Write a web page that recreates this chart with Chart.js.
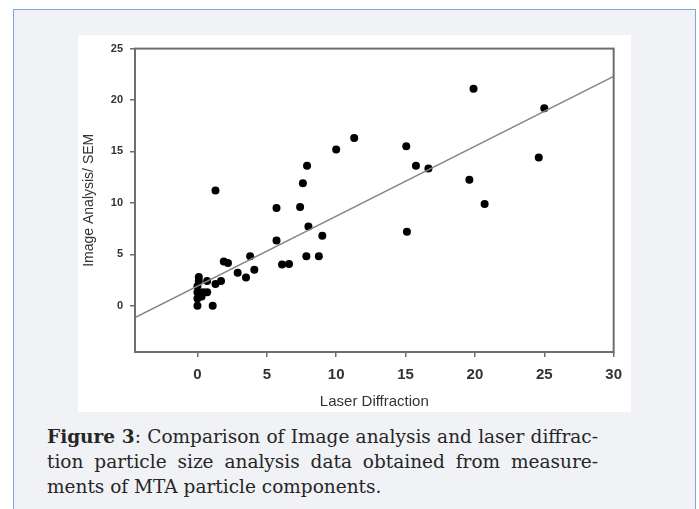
<!DOCTYPE html>
<html>
<head>
<meta charset="utf-8">
<script src="https://cdn.jsdelivr.net/npm/chart.js@4.4.1/dist/chart.umd.min.js"></script>
<style>
  body { margin: 0; background: #fff; width: 699px; height: 509px; overflow: hidden; }
  .frame {
    position: absolute; left: 13px; top: 9px; width: 681px; height: 520px;
    border: 1px solid #7fa6dc; background: #f0f2f5;
  }
  .panel { position: absolute; left: 64px; top: 25px; width: 553px; height: 377px; background: #fff; }
  .caption { position: absolute; left: 33px; top: 414px; width: 551px; font-family: "DejaVu Serif", serif; font-size: 18.5px; line-height: 25px; color: #262626; }
  .caption div { white-space: nowrap; }
  .caption .just { text-align: justify; text-align-last: justify; }
</style>
</head>
<body>
<div class="frame">
  <div class="panel"><canvas id="scatterChart" width="553" height="377"></canvas></div>
  <div class="caption">
    <div class="just"><b>Figure 3</b>: Comparison of Image analysis and laser diffrac-</div>
    <div class="just">tion particle size analysis data obtained from measure-</div>
    <div>ments of MTA particle components.</div>
  </div>
</div>
<script>
// values
const laserDiffraction = [0, 0, 0.3, 0, 0.4, 0.7, 0, 0.1, 0.1, 0.7, 1.1, 1.3, 1.7, 1.3, 1.9, 2.2, 2.9, 3.5, 3.8, 4.1,
    5.7, 5.7, 6.1, 6.6, 7.4, 7.6, 7.9, 8.0, 7.85, 8.75, 9.0, 10.0, 11.3, 15.05, 15.75, 16.65, 15.1, 19.6, 19.9, 20.7, 24.6, 25.0];
const imageAnalysis = [0, 0.7, 0.9, 1.3, 1.3, 1.3, 1.9, 2.4, 2.8, 2.4, 0, 2.1, 2.4, 11.2, 4.3, 4.15, 3.2, 2.75, 4.8, 3.5,
    9.5, 6.35, 4.0, 4.05, 9.6, 11.9, 13.6, 7.7, 4.8, 4.8, 6.8, 15.2, 16.3, 15.5, 13.6, 13.35, 7.2, 12.25, 21.1, 9.9, 14.4, 19.2];

// regression line end points
const fitX = [-4.5, 30];
const fitY = [-1.15, 22.3];

const xTickValues = [0, 5, 10, 15, 20, 25, 30];
const yTickValues = [0, 5, 10, 15, 20, 25];

const points = laserDiffraction.map((x, i) => ({x: x, y: imageAnalysis[i]}));
const fitPoints = fitX.map((x, i) => ({x: x, y: fitY[i]}));

// box round the plot area
const frameBox = {
    id: 'frameBox',
    afterDatasetsDraw(chart) {
        const a = chart.chartArea;
        const ctx = chart.ctx;
        ctx.save();
        ctx.strokeStyle = '#6e6e6e';
        ctx.lineWidth = 2;
        ctx.strokeRect(a.left, a.top, a.right - a.left, a.bottom - a.top);
        ctx.restore();
    }
};

const ctx = document.getElementById('scatterChart').getContext('2d');
new Chart(ctx, {
    data: {
        datasets: [
            {
                type: 'line',
                data: fitPoints,
                borderColor: '#858585',
                borderWidth: 1.5,
                pointRadius: 0,
                fill: false
            },
            {
                type: 'scatter',
                data: points,
                backgroundColor: '#000',
                borderColor: '#000',
                pointRadius: 4,
                pointBorderWidth: 0
            }
        ]
    },
    options: {
        responsive: false,
        animation: false,
        devicePixelRatio: 1,
        layout: { padding: { top: 9, right: 14, left: 0, bottom: 0 } },
        plugins: { legend: { display: false }, tooltip: { enabled: false } },
        scales: {
            x: {
                type: 'linear',
                min: -4.5,
                max: 30,
                afterFit: s => { s.height = 60; },
                afterBuildTicks: s => { s.ticks = xTickValues.map(v => ({value: v})); },
                grid: { drawOnChartArea: false, drawTicks: true, tickLength: 5, color: '#6e6e6e', lineWidth: 1.5 },
                border: { display: false },
                ticks: { padding: 9, color: '#333', font: { family: 'Liberation Sans', size: 15, weight: 'bold' } },
                title: { display: true, text: 'Laser Diffraction', color: '#333', padding: { top: 2, bottom: 1 },
                    font: { family: 'Liberation Sans', size: 15 } }
            },
            y: {
                type: 'linear',
                min: -4.5,
                max: 25,
                afterFit: s => { s.width = 57; },
                afterBuildTicks: s => { s.ticks = yTickValues.map(v => ({value: v})); },
                grid: { drawOnChartArea: false, drawTicks: true, tickLength: 5, color: '#6e6e6e', lineWidth: 1.5 },
                border: { display: false },
                ticks: { padding: 7, color: '#333', font: { family: 'Liberation Sans', size: 11, weight: 'bold' } },
                title: { display: true, text: 'Image Analysis/ SEM', color: '#333', padding: { top: 3, bottom: 2 },
                    font: { family: 'Liberation Sans', size: 14 } }
            }
        }
    },
    plugins: [frameBox]
});
</script>
</body>
</html>
